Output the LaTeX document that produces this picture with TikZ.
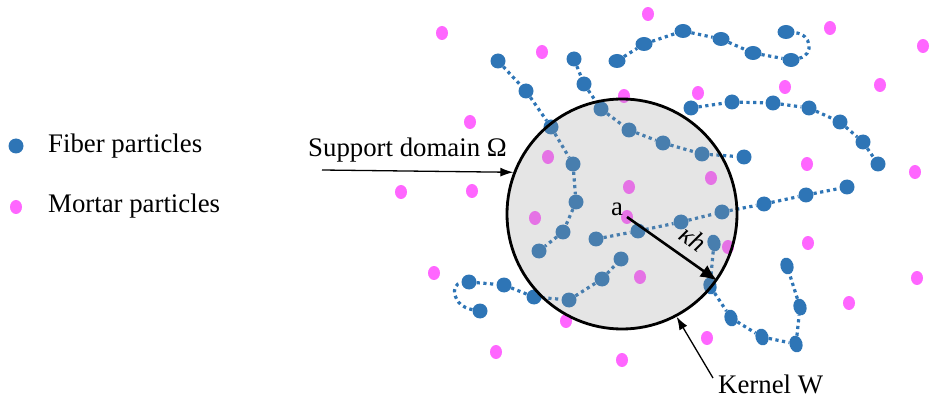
\documentclass[tikz,border=0pt]{standalone}
\usepackage{fontspec}
\setmainfont{Liberation Serif}
\newfontfamily\lblfont{Liberation Serif}
\usetikzlibrary{shapes.geometric,arrows.meta}
\definecolor{fiber}{RGB}{46,117,182}
\definecolor{mortar}{RGB}{255,102,255}
\tikzset{
  fib/.style={ellipse, fill=fiber, inner sep=0pt, minimum width=15pt, minimum height=15pt},
  fibw/.style={fib, minimum width=17pt, minimum height=14pt},
  fibt/.style={fib, minimum width=13pt, minimum height=17pt, rotate=15},
  mor/.style={ellipse, fill=mortar, inner sep=0pt, minimum width=12pt, minimum height=14pt},
  chain/.style={draw=fiber, line width=3.2pt, dash pattern=on 3.2pt off 3.5pt},
  lbl/.style={font=\lblfont\fontsize{26.8}{32}\selectfont, inner sep=0pt},
  thin arrow/.style={line width=1.3pt, -{Latex[length=13pt,width=9pt]}}
}
\begin{document}
\begin{tikzpicture}[x=1pt, y=-1pt]
  \useasboundingbox (0,0) rectangle (930,401);

  % legend
  \node[fib] (lf) at (16,146) {};
  \node[lbl, anchor=base west] (lft) at (48,153) {Fiber particles};
  \node[mor] (lm) at (16,207) {};
  \node[lbl, anchor=base west] (lmt) at (48,213) {Mortar particles};

  % mortar particles
  \foreach \n/\x/\y in {m1/442/33, m2/542/52, m3/648/14, m4/470/122, m5/624/96,
      m6/548/157, m7/629/187, m8/472/191, m9/401/192, m10/830/28, m11/923/46,
      m12/698/93, m13/785/87, m14/880/85, m15/711/178, m16/807/164, m17/915/172,
      m18/535/218, m19/627/217, m20/434/273, m21/640/277, m22/566/321,
      m23/496/352, m24/622/360, m25/728/247, m26/808/243, m27/917/278,
      m28/849/303, m29/707/338}
    \node[mor] (\n) at (\x,\y) {};

  % fiber particles
  \foreach \n/\x/\y in {a1/498/61, a2/526/91, a3/551/127, a4/573/164, a5/576/202,
      a6/563/232, a7/539/251,
      b1/574/59, b2/584/84, b3/601/109, b4/629/130, b5/663/143, b6/702/154, b7/744/157,
      d1/691/108, d2/732/102, d3/773/103, d4/809/108, d5/840/122, d6/863/142, d7/878/164,
      e1/596/239, e2/638/231, e3/681/222, e4/722/212, e5/764/204, e6/806/195, e7/847/187,
      f1/480/311, f2/469/282, f3/504/285, f4/534/297, f5/569/300, f6/602/279, f7/621/259}
    \node[fib] (\n) at (\x,\y) {};
  \foreach \n/\x/\y in {c1/617/61, c2/644/44, c3/683/31, c4/721/39, c5/753/53,
      c6/791/60, c7/786/32}
    \node[fibw] (\n) at (\x,\y) {};
  \foreach \n/\x/\y in {g1/714/243, g2/710/286, g3/731/318, g4/762/337, g5/796/344,
      g6/800/307, g7/787/266}
    \node[fibt] (\n) at (\x,\y) {};

  % fibers
  \foreach \c in {a,b,d,e,g}
    \draw[chain] (\c1) -- (\c2) -- (\c3) -- (\c4) -- (\c5) -- (\c6) -- (\c7);
  \draw[chain] (c1) -- (c2) -- (c3) -- (c4) -- (c5) -- (c6)
    .. controls (814,55) and (812,34) .. (c7);
  \draw[chain] (f1) .. controls (452,306) and (450,284) .. (f2)
    -- (f3) -- (f4) -- (f5) -- (f6) -- (f7);

  % support domain
  \node[circle, minimum size=230pt, inner sep=0pt, fill=black!40, fill opacity=0.25,
    draw=black, line width=2.8pt] (dom) at (622,214) {};

  \node[lbl, anchor=base] (lbla) at (617,216) {a};
  \draw[line width=2.6pt, -{Latex[length=17pt,width=14pt]}] (m19.center) --
    node[lbl, sloped, above=10pt, pos=0.6]{\itshape κh} (dom.-35);

  \node[lbl, anchor=base west] (sup) at (308,157) {Support domain Ω};
  \coordinate (sups) at (322,170);
  \draw[thin arrow] (sups) -- (dom.159);

  \node[lbl, anchor=base west] (ker) at (718,393) {Kernel W};
  \coordinate (kers) at (713,378);
  \draw[thin arrow] (kers) -- (dom.-62);
\end{tikzpicture}
\end{document}
